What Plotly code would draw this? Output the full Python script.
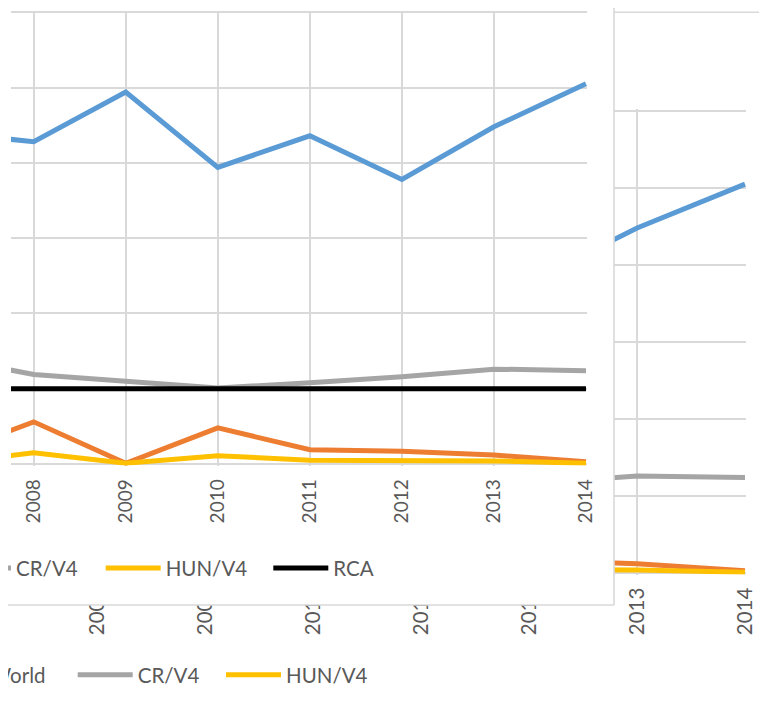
import plotly.graph_objects as go

# ---- data ----
years = [2007, 2008, 2009, 2010, 2011, 2012, 2013, 2014]
tick_years = [2008, 2009, 2010, 2011, 2012, 2013, 2014]
blue_name = "SK/V4"
orange_name = "V4/World"
gray_name = "CR/V4"
yellow_name = "HUN/V4"
rca_name = "RCA"
blue_vals = [4.41, 4.28, 4.94, 3.94, 4.36, 3.78, 4.48, 5.05]
orange_vals = [0.10, 0.56, 0.01, 0.48, 0.19, 0.17, 0.12, 0.03]
gray_vals = [1.42, 1.19, 1.10, 1.01, 1.08, 1.16, 1.26, 1.24]
yellow_vals = [0.00, 0.15, 0.01, 0.11, 0.05, 0.05, 0.04, 0.01]
rca_vals = [1, 1, 1, 1, 1, 1, 1, 1]

# ---- styling ----
W, H = 767, 711
OFF = 8  # page body margin
BLUE, ORANGE, GRAY, YELLOW, BLACK = "#5B9BD5", "#ED7D31", "#A5A5A5", "#FFC000", "#000000"
GRID = "#D9D9D9"
TXT = "#595959"
LW = 5


def fx(px):
    return (px - OFF) / W


def fy(py):
    return 1 - (py - OFF) / H


fig = go.Figure()

# back chart (partly hidden)
for name, vals, col, leg in [
    (blue_name, blue_vals, BLUE, None),
    (orange_name, orange_vals, ORANGE, "legend"),
    (gray_name, gray_vals, GRAY, "legend2"),
    (yellow_name, yellow_vals, YELLOW, "legend3"),
]:
    fig.add_trace(go.Scatter(
        x=years, y=vals, name=name, mode="lines",
        line=dict(color=col, width=LW),
        xaxis="x", yaxis="y",
        showlegend=leg is not None, legend=leg or "legend",
        hoverinfo="skip",
    ))

# cover panel (front chart's white area)
fig.add_trace(go.Scatter(x=[], y=[], xaxis="x2", yaxis="y2", showlegend=False, hoverinfo="skip"))

# front chart
for name, vals, col, leg in [
    (blue_name, blue_vals, BLUE, None),
    (orange_name, orange_vals, ORANGE, None),
    (gray_name, gray_vals, GRAY, "legend4"),
    (yellow_name, yellow_vals, YELLOW, "legend5"),
    (rca_name, rca_vals, BLACK, "legend6"),
]:
    fig.add_trace(go.Scatter(
        x=years, y=vals, name=name, mode="lines",
        line=dict(color=col, width=LW),
        xaxis="x3", yaxis="y3",
        showlegend=leg is not None, legend=leg or "legend",
        hoverinfo="skip",
    ))

# axes geometry (page pixels)
b_step = 107.9
b_right = 746
f_step = 92.05
f_left, f_right = 11, 587

common_x = dict(tickmode="array", tickvals=tick_years, ticktext=[str(v) for v in tick_years],
                tickangle=-90, ticks="", showgrid=True, gridcolor=GRID, gridwidth=1.6,
                zeroline=False, showline=False, fixedrange=True)
common_y = dict(range=[-0.02, 6.02], dtick=1, tick0=0, showgrid=True, gridcolor=GRID,
                gridwidth=1.6, zeroline=False, showline=False, showticklabels=False,
                ticks="", fixedrange=True)

leg_common = dict(orientation="h", xanchor="left", yanchor="middle", bgcolor="rgba(0,0,0,0)",
                  borderwidth=0, itemwidth=55, font=dict(family="Lato", size=20.5, color=TXT))

fig.update_layout(
    width=W, height=H,
    margin=dict(l=0, r=0, t=0, b=0, autoexpand=False),
    paper_bgcolor="white", plot_bgcolor="white",
    font=dict(family="Lato", color=TXT),
    xaxis=dict(domain=[0, fx(b_right)], range=[2014 - (b_right - 1 - OFF) / b_step, 2014 + 1 / b_step],
               anchor="y", tickfont=dict(family="Lato", size=20.5, color=TXT),
               ticklabelstandoff=8, **common_x),
    yaxis=dict(domain=[fy(573 + 1.54), fy(111 - 1.54)], anchor="x", **common_y),
    xaxis2=dict(domain=[0, fx(614)], range=[0, 1], visible=False, anchor="y2", fixedrange=True),
    yaxis2=dict(domain=[fy(605), 1], range=[0, 1], visible=False, anchor="x2", fixedrange=True),
    xaxis3=dict(domain=[fx(f_left), fx(f_right)],
                range=[2014 - (f_right - 1 - f_left) / f_step, 2014 + 1 / f_step],
                anchor="y3", tickfont=dict(family="Lato", size=19, color=TXT),
                ticklabelstandoff=9, **common_x),
    yaxis3=dict(domain=[fy(464 + 1.5), fy(12.3 - 1.5)], anchor="x3", **common_y),
    legend=dict(x=fx(-110), y=fy(675), **leg_common),
    legend2=dict(x=fx(72.7), y=fy(675), **leg_common),
    legend3=dict(x=fx(221), y=fy(675), **leg_common),
    legend4=dict(x=fx(-49), y=fy(568.3), **leg_common),
    legend5=dict(x=fx(100.7), y=fy(568.3), **leg_common),
    legend6=dict(x=fx(268.3), y=fy(568.3), **leg_common),
    shapes=[
        dict(type="line", xref="paper", yref="paper", x0=fx(614), x1=fx(614), y0=fy(605), y1=1,
             line=dict(color=GRID, width=1.6), layer="above"),
        dict(type="line", xref="paper", yref="paper", x0=0, x1=fx(614), y0=fy(605), y1=fy(605),
             line=dict(color=GRID, width=1.6), layer="above"),
        dict(type="line", xref="paper", yref="paper", x0=fx(614), x1=1, y0=fy(12.3), y1=fy(12.3),
             line=dict(color=GRID, width=1.6), layer="above"),
    ],
    hovermode=False,
)

fig.write_html("out.html")
